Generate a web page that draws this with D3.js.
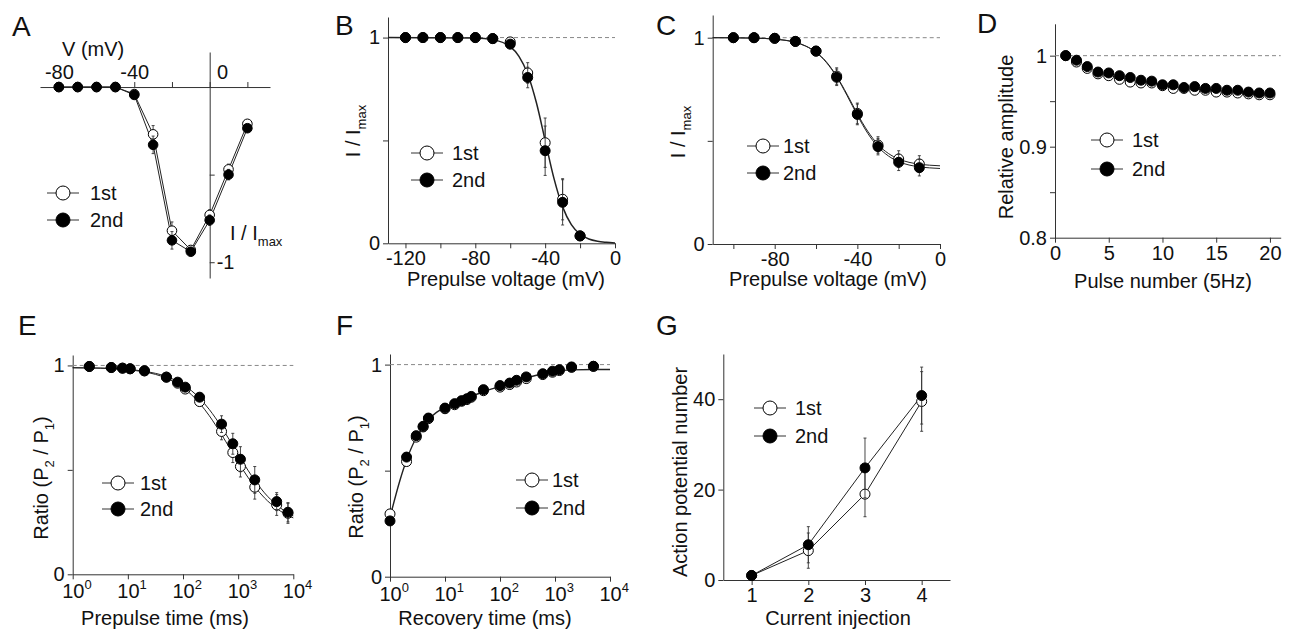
<!DOCTYPE html>
<html>
<head>
<meta charset="utf-8">
<script src="https://cdn.jsdelivr.net/npm/d3@7"></script>
<style>body{margin:0;background:#fff}</style>
</head>
<body>
<script>
// ---------- data ----------
var legendLabels = ["1st", "2nd"];

// A: current-voltage relation
var aVolt    = [-80, -70, -60, -50, -40, -30, -20, -10, 0, 10, 20];
var a1st     = [0, 0, 0, 0, -0.04, -0.27, -0.82, -0.93, -0.73, -0.47, -0.21];
var a2nd     = [0, 0, 0, 0, -0.045, -0.33, -0.875, -0.94, -0.76, -0.50, -0.235];
var a1stErr  = [0, 0, 0, 0, 0.01, 0.05, 0.05, 0.02, 0.03, 0.03, 0.02];
var a2ndErr  = [0, 0, 0, 0, 0.01, 0.05, 0.05, 0.02, 0.03, 0.03, 0.02];

// B: steady-state inactivation
var bVolt    = [-120, -110, -100, -90, -80, -70, -60, -50, -40, -30, -20];
var b1st     = [1, 1, 1, 1, 1, 0.995, 0.979, 0.828, 0.489, 0.214, 0.036];
var b2nd     = [1, 1, 1, 1, 1, 0.995, 0.968, 0.806, 0.450, 0.199, 0.036];
var b1stErr  = [0, 0, 0, 0, 0, 0, 0.01, 0.05, 0.12, 0.10, 0.01];
var b2ndErr  = [0, 0, 0, 0, 0, 0, 0.01, 0.05, 0.12, 0.11, 0.01];
var bFitV    = [-130, -80, -70, -60, -55, -50, -45, -40, -35, -30, -25, -20, -15, -10, -5, 0];
var bFit     = [1, 0.998, 0.990, 0.956, 0.909, 0.823, 0.683, 0.5, 0.317, 0.177, 0.091, 0.044, 0.021, 0.010, 0.005, 0.002];

// C: steady-state inactivation (second condition)
var cVolt    = [-100, -90, -80, -70, -60, -50, -40, -30, -20, -10];
var c1st     = [1, 1, 0.997, 0.982, 0.935, 0.814, 0.633, 0.480, 0.412, 0.388];
var c2nd     = [1, 1, 0.997, 0.982, 0.935, 0.808, 0.628, 0.472, 0.396, 0.370];
var c1stErr  = [0, 0, 0, 0, 0.01, 0.04, 0.05, 0.04, 0.04, 0.04];
var c2ndErr  = [0, 0, 0, 0, 0.01, 0.04, 0.05, 0.04, 0.04, 0.04];
var cFitV    = [-110, -90, -80, -70, -65, -60, -55, -50, -45, -40, -35, -30, -25, -20, -15, -10, -5, 0];
var c1stFit  = [1, 0.998, 0.993, 0.978, 0.960, 0.930, 0.883, 0.813, 0.726, 0.631, 0.547, 0.482, 0.439, 0.412, 0.396, 0.387, 0.382, 0.379];
var c2ndFit  = [1, 0.998, 0.993, 0.977, 0.959, 0.929, 0.880, 0.810, 0.720, 0.624, 0.537, 0.471, 0.427, 0.399, 0.383, 0.374, 0.369, 0.366];

// D: use-dependent reduction at 5 Hz
var dPulse   = [1, 2, 3, 4, 5, 6, 7, 8, 9, 10, 11, 12, 13, 14, 15, 16, 17, 18, 19, 20];
var d1st     = [1, 0.993, 0.986, 0.980, 0.978, 0.974, 0.971, 0.970, 0.970, 0.967, 0.964, 0.964, 0.962, 0.962, 0.960, 0.960, 0.959, 0.958, 0.957, 0.957];
var d2nd     = [1, 0.995, 0.988, 0.982, 0.981, 0.978, 0.976, 0.973, 0.972, 0.968, 0.968, 0.965, 0.966, 0.964, 0.964, 0.962, 0.962, 0.960, 0.959, 0.959];

// E: development of slow inactivation
var eTime    = [2, 5, 8, 11, 20, 50, 80, 110, 200, 500, 800, 1100, 2000, 5000, 8000];
var e1st     = [0.995, 0.99, 0.987, 0.984, 0.974, 0.944, 0.915, 0.887, 0.827, 0.684, 0.583, 0.516, 0.417, 0.332, 0.292];
var e2nd     = [0.995, 0.99, 0.987, 0.984, 0.974, 0.944, 0.920, 0.896, 0.848, 0.719, 0.625, 0.551, 0.452, 0.348, 0.297];
var e1stErr  = [0, 0, 0, 0, 0, 0, 0.01, 0.01, 0.02, 0.04, 0.048, 0.05, 0.057, 0.05, 0.048];
var e2ndErr  = [0, 0, 0, 0, 0, 0, 0.01, 0.01, 0.02, 0.04, 0.05, 0.06, 0.064, 0.043, 0.046];
var eFitT    = [1, 2, 5, 10, 20, 50, 100, 200, 300, 500, 700, 1000, 1500, 2000, 3000, 5000, 7000, 10000];
var e1stFit  = [0.989, 0.988, 0.985, 0.979, 0.969, 0.939, 0.894, 0.819, 0.759, 0.669, 0.605, 0.537, 0.465, 0.420, 0.366, 0.315, 0.290, 0.270];
var e2ndFit  = [0.989, 0.988, 0.986, 0.981, 0.972, 0.947, 0.909, 0.843, 0.789, 0.705, 0.642, 0.574, 0.499, 0.450, 0.390, 0.332, 0.303, 0.280];

// F: recovery from inactivation
var fTime    = [1, 2, 3, 4, 5, 10, 15, 20, 25, 30, 50, 100, 150, 200, 300, 600, 900, 1200, 2000, 5000];
var f1st     = [0.296, 0.543, 0.658, 0.706, 0.745, 0.792, 0.811, 0.827, 0.835, 0.846, 0.877, 0.894, 0.906, 0.918, 0.934, 0.953, 0.964, 0.972, 0.987, 0.992];
var f2nd     = [0.263, 0.564, 0.665, 0.709, 0.748, 0.795, 0.816, 0.830, 0.839, 0.850, 0.882, 0.901, 0.913, 0.926, 0.942, 0.957, 0.969, 0.976, 0.989, 0.992];
var f1stErr  = [0.01, 0.02, 0.01, 0.01, 0.01, 0, 0, 0, 0, 0, 0, 0, 0, 0, 0, 0, 0, 0, 0, 0];
var f2ndErr  = [0.01, 0.02, 0.01, 0.01, 0.01, 0, 0, 0, 0, 0, 0, 0, 0, 0, 0, 0, 0, 0, 0, 0];
var fFitT    = [1, 1.5, 2, 3, 4, 5, 7, 10, 20, 50, 100, 200, 300, 500, 1000, 2000, 5000, 10000];
var fFit     = [0.28, 0.45, 0.55, 0.655, 0.705, 0.74, 0.775, 0.797, 0.83, 0.872, 0.897, 0.922, 0.937, 0.952, 0.968, 0.975, 0.977, 0.977];

// G: action potential firing
var gStep    = [1, 2, 3, 4];
var g1st     = [1, 6.5, 19.0, 39.5];
var g2nd     = [1, 7.8, 24.8, 40.8];
var g1stErr  = [0.3, 3.9, 5.0, 6.6];
var g2ndErr  = [0.3, 4.0, 6.6, 6.3];

// ---------- drawing ----------
var FONT = "'Liberation Sans', Arial, Helvetica, sans-serif";
var AX = "#333", INK = "#111";

var svg = d3.select("body").append("svg")
    .attr("width", 1290)
    .attr("height", 634)
    .style("background", "#fff");

function styleAxis(a) {
    a.attr("font-family", FONT).attr("font-size", 20);
    a.select(".domain").attr("stroke", AX);
    a.selectAll(".tick line").attr("stroke", AX);
    a.selectAll(".tick text").attr("fill", INK);
    return a;
}

function xAxis(x, y0, ticks, fmt) {
    return styleAxis(svg.append("g")
        .attr("transform", "translate(0," + y0 + ")")
        .call(d3.axisBottom(x).tickValues(ticks).tickFormat(fmt)
            .tickSize(5).tickSizeOuter(0).tickPadding(3)));
}

function yAxis(y, x0, ticks, fmt) {
    return styleAxis(svg.append("g")
        .attr("transform", "translate(" + x0 + ",0)")
        .call(d3.axisLeft(y).tickValues(ticks).tickFormat(fmt)
            .tickSize(5).tickSizeOuter(0).tickPadding(3)));
}

// decade ticks: "10" centred on the tick, exponent hanging to its right
function logXAxis(x, y0) {
    var a = xAxis(x, y0, [1, 10, 100, 1000, 10000], function() { return ""; });
    a.selectAll(".tick").append("text")
        .attr("x", -11)
        .attr("y", 24)
        .attr("text-anchor", "start")
        .attr("fill", INK)
        .each(function(d) {
            var t = d3.select(this);
            t.append("tspan").text("10");
            t.append("tspan").attr("dy", -9).attr("font-size", 13).text(Math.round(Math.log10(d)));
        });
}

function rich(sel, parts) {
    var shift = 0;
    parts.forEach(function(p) {
        var t = sel.append("tspan").text(p[0]);
        if (p[1]) {
            t.attr("font-size", 13).attr("dy", 6 - shift);
            shift = 6;
        } else if (shift) {
            t.attr("dy", -shift);
            shift = 0;
        }
    });
}

function yLabel(bx, cy, parts) {
    var t = svg.append("text")
        .attr("transform", "translate(" + bx + "," + cy + ") rotate(-90)")
        .attr("text-anchor", "middle")
        .attr("font-family", FONT).attr("font-size", 20).attr("fill", INK);
    rich(t, parts);
}

function xLabel(cx, by, str) {
    svg.append("text").attr("x", cx).attr("y", by)
        .attr("text-anchor", "middle")
        .attr("font-family", FONT).attr("font-size", 20).attr("fill", INK)
        .text(str);
}

function letter(x, y, str) {
    svg.append("text").attr("x", x).attr("y", y)
        .attr("font-family", FONT).attr("font-size", 28).attr("fill", INK)
        .text(str);
}

function dashed(x, y, v) {
    var d = x.domain();
    svg.append("line")
        .attr("x1", x(d[0])).attr("x2", x(d[1]))
        .attr("y1", y(v)).attr("y2", y(v))
        .attr("stroke", "#888").attr("stroke-dasharray", "4,3");
}

function path(x, y, xs, ys, curve, w) {
    svg.append("path")
        .datum(xs.map(function(v, i) { return [v, ys[i]]; }))
        .attr("d", d3.line()
            .x(function(d) { return x(d[0]); })
            .y(function(d) { return y(d[1]); })
            .curve(curve || d3.curveLinear))
        .attr("fill", "none")
        .attr("stroke", "#222")
        .attr("stroke-width", w || 1);
}

function series(x, y, xs, ys, errs, filled, r) {
    var g = svg.append("g");
    if (errs) {
        xs.forEach(function(v, i) {
            if (!errs[i]) return;
            var cx = x(v), y1 = y(ys[i] - errs[i]), y2 = y(ys[i] + errs[i]);
            g.append("line").attr("x1", cx).attr("x2", cx).attr("y1", y1).attr("y2", y2)
                .attr("stroke", "#333").attr("stroke-width", 0.9);
            [y1, y2].forEach(function(yy) {
                g.append("line").attr("x1", cx - 1.5).attr("x2", cx + 1.5).attr("y1", yy).attr("y2", yy)
                    .attr("stroke", "#333").attr("stroke-width", 0.9);
            });
        });
    }
    g.selectAll("circle")
        .data(xs.map(function(v, i) { return [v, ys[i]]; }))
        .join("circle")
        .attr("cx", function(d) { return x(d[0]); })
        .attr("cy", function(d) { return y(d[1]); })
        .attr("r", r || 5)
        .attr("fill", filled ? "#000" : "#fff")
        .attr("stroke", "#000")
        .attr("stroke-width", 1);
}

function legend(cx, cy, step, tx) {
    legendLabels.forEach(function(lab, i) {
        var yy = cy + i * step;
        svg.append("line").attr("x1", cx - 16).attr("x2", cx + 16).attr("y1", yy).attr("y2", yy)
            .attr("stroke", "#333");
        svg.append("circle").attr("cx", cx).attr("cy", yy).attr("r", 7)
            .attr("fill", i ? "#000" : "#fff").attr("stroke", "#000");
        svg.append("text").attr("x", tx).attr("y", yy + 7)
            .attr("font-family", FONT).attr("font-size", 20).attr("fill", INK)
            .text(lab);
    });
}

function fmtOnly(list) {
    return function(d) { return list.indexOf(d) >= 0 ? String(d) : ""; };
}

// ----- A -----
(function() {
    var x = d3.scaleLinear().domain([-90, 32]).range([40, 270]);
    var y = d3.scaleLinear().domain([0.2, -1.09]).range([52, 278]);
    var xa = styleAxis(svg.append("g").attr("transform", "translate(0," + y(0) + ")")
        .call(d3.axisTop(x).tickValues([-80, -60, -40, -20, 0, 20]).tickFormat(fmtOnly([-80, -40]))
            .tickSize(5).tickSizeOuter(0).tickPadding(3)));
    xa.append("text").attr("x", x(0) + 13).attr("y", -8).attr("text-anchor", "middle")
        .attr("fill", INK).text("0");
    styleAxis(svg.append("g").attr("transform", "translate(" + x(0) + ",0)")
        .call(d3.axisRight(y).tickValues([-0.5, -1]).tickFormat(fmtOnly([-1]))
            .tickSize(5).tickSizeOuter(0).tickPadding(2)));
    svg.append("text").attr("x", 62).attr("y", 56)
        .attr("font-family", FONT).attr("font-size", 20).attr("fill", INK).text("V (mV)");
    var t = svg.append("text").attr("x", 230).attr("y", 240)
        .attr("font-family", FONT).attr("font-size", 20).attr("fill", INK);
    rich(t, [["I / I"], ["max", 1]]);
    path(x, y, aVolt, a1st);
    path(x, y, aVolt, a2nd);
    series(x, y, aVolt, a1st, a1stErr, false, 4.8);
    series(x, y, aVolt, a2nd, a2ndErr, true, 4.8);
    legend(63, 193, 27, 90);
    letter(12, 36, "A");
})();

// ----- B -----
(function() {
    var x = d3.scaleLinear().domain([-130, 0]).range([388, 615]);
    var y = d3.scaleLinear().domain([0, 1.1]).range([243.3, 17]);
    xAxis(x, y(0), [-120, -100, -80, -60, -40, -20, 0], fmtOnly([-120, -80, -40, 0]));
    yAxis(y, x(-130), [0, 0.5, 1], fmtOnly([0, 1]));
    dashed(x, y, 1);
    path(x, y, bFitV, bFit, d3.curveMonotoneX, 1.5);
    series(x, y, bVolt, b1st, b1stErr, false);
    series(x, y, bVolt, b2nd, b2ndErr, true);
    legend(427, 153, 27, 452);
    xLabel(506, 286, "Prepulse voltage (mV)");
    yLabel(360, 131, [["I / I"], ["max", 1]]);
    letter(335, 35, "B");
})();

// ----- C -----
(function() {
    var x = d3.scaleLinear().domain([-110, 0]).range([712.7, 940]);
    var y = d3.scaleLinear().domain([0, 1.11]).range([244, 15]);
    xAxis(x, y(0), [-100, -80, -60, -40, -20, 0], fmtOnly([-80, -40, 0]));
    yAxis(y, x(-110), [0, 0.5, 1], fmtOnly([0, 1]));
    dashed(x, y, 1);
    path(x, y, cFitV, c1stFit, d3.curveMonotoneX);
    path(x, y, cFitV, c2ndFit, d3.curveMonotoneX);
    series(x, y, cVolt, c1st, c1stErr, false);
    series(x, y, cVolt, c2nd, c2ndErr, true);
    legend(763, 146, 27, 783);
    xLabel(828, 286, "Prepulse voltage (mV)");
    yLabel(685, 132, [["I / I"], ["max", 1]]);
    letter(656, 35, "C");
})();

// ----- D -----
(function() {
    var x = d3.scaleLinear().domain([0, 21]).range([1055, 1280.7]);
    var y = d3.scaleLinear().domain([0.8, 1.035]).range([237.7, 23.8]);
    xAxis(x, y(0.8), [0, 5, 10, 15, 20], fmtOnly([0, 5, 10, 15, 20]));
    yAxis(y, x(0), [0.8, 0.85, 0.9, 0.95, 1], function(d) {
        return d === 1 ? "1" : (d === 0.8 || d === 0.9) ? String(d) : "";
    });
    dashed(x, y, 1);
    series(x, y, dPulse, d1st, null, false);
    series(x, y, dPulse, d2nd, null, true);
    legend(1107, 140, 29, 1132);
    xLabel(1163, 288, "Pulse number (5Hz)");
    yLabel(1013, 137, [["Relative amplitude"]]);
    letter(977, 33, "D");
})();

// ----- E -----
(function() {
    var x = d3.scaleLog().domain([1, 1e4]).range([72.7, 293.3]);
    var y = d3.scaleLinear().domain([0, 1.05]).range([574.3, 355]);
    logXAxis(x, y(0));
    yAxis(y, x(1), [0, 0.5, 1], fmtOnly([0, 1]));
    dashed(x, y, 1);
    path(x, y, eFitT, e1stFit, d3.curveMonotoneX);
    path(x, y, eFitT, e2ndFit, d3.curveMonotoneX);
    series(x, y, eTime, e1st, e1stErr, false);
    series(x, y, eTime, e2nd, e2ndErr, true);
    legend(118, 483, 26, 140);
    xLabel(165, 625, "Prepulse time (ms)");
    yLabel(48, 478, [["Ratio (P"], ["2", 1], [" / P"], ["1", 1], [")"]]);
    letter(18, 335, "E");
})();

// ----- F -----
(function() {
    var x = d3.scaleLog().domain([1, 1e4]).range([390, 610]);
    var y = d3.scaleLinear().domain([0, 1.05]).range([576.7, 354]);
    logXAxis(x, y(0));
    yAxis(y, x(1), [0, 0.5, 1], fmtOnly([0, 1]));
    dashed(x, y, 1);
    path(x, y, fFitT, fFit, d3.curveMonotoneX, 1.4);
    series(x, y, fTime, f1st, f1stErr, false);
    series(x, y, fTime, f2nd, f2ndErr, true);
    legend(532, 480, 28, 552);
    xLabel(485, 625, "Recovery time (ms)");
    yLabel(363, 477, [["Ratio (P"], ["2", 1], [" / P"], ["1", 1], [")"]]);
    letter(336, 335, "F");
})();

// ----- G -----
(function() {
    var x = d3.scaleLinear().domain([0.5, 4.5]).range([723.3, 950]);
    var y = d3.scaleLinear().domain([0, 50]).range([580, 354]);
    xAxis(x, y(0), gStep, fmtOnly(gStep));
    yAxis(y, x(0.5), [0, 20, 40], fmtOnly([0, 20, 40]));
    path(x, y, gStep, g1st);
    path(x, y, gStep, g2nd);
    series(x, y, gStep, g1st, g1stErr, false);
    series(x, y, gStep, g2nd, g2ndErr, true);
    legend(770, 408, 28, 795);
    xLabel(838, 625, "Current injection");
    yLabel(687, 472, [["Action potential number"]]);
    letter(656, 335, "G");
})();
</script>
</body>
</html>
